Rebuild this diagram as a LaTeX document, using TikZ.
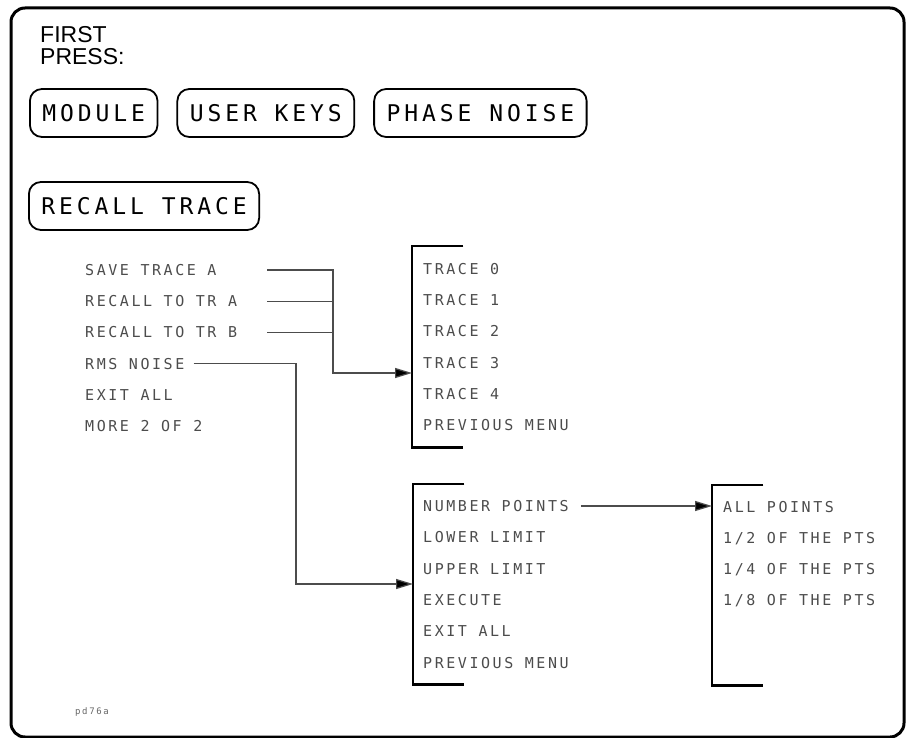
\documentclass[tikz,border=0pt]{standalone}
\usepackage{fontspec}
\setmainfont{Liberation Sans}
\newfontfamily\menufont[LetterSpace=17]{DejaVu Sans Mono}
\newfontfamily\keyfont[LetterSpace=17]{DejaVu Sans Mono}
\newfontfamily\tagfont[LetterSpace=18]{DejaVu Sans Mono}
\usetikzlibrary{arrows.meta,positioning}

\tikzset{
  softkey/.style={draw, line width=1.8pt, rounded corners=12pt, minimum height=48pt,
    inner xsep=12.5pt, anchor=west, text height=17pt, text depth=0pt,
    font=\keyfont\fontsize{23}{23}\selectfont},
  menuitem/.style={anchor=west, inner sep=0pt, text=black!70, text height=11pt,
    text depth=0pt, font=\menufont\fontsize{15}{15}\selectfont},
  bracketbox/.style={anchor=north west, inner sep=0pt, minimum width=51pt},
  bracket/.style={line width=2.4pt},
  link/.style={line width=1.2pt, draw=black!70},
  linkarrow/.style={link, -{Triangle[length=17pt,width=10pt,fill=black]}}
}

\begin{document}
\begin{tikzpicture}[x=1pt, y=-1pt]
\useasboundingbox (0,0) rectangle (910,738);
%%%%% Frame %%%%%
\draw[line width=3pt, rounded corners=14pt] (11,8) rectangle (904,737);
\node[anchor=north west, inner sep=0pt, align=left, font=\fontsize{23}{22}\selectfont] (first) at (40,26) {FIRST\\PRESS:};

%%%%% Keys %%%%%
\node[softkey] (module) at (29,113) {MODULE};
\node[softkey, right=18pt of module] (userkeys) {USER KEYS};
\node[softkey, right=18pt of userkeys] (phasenoise) {PHASE NOISE};
\node[softkey] (recall) at (28,206) {RECALL TRACE};

%%%%% Menus %%%%%
\foreach \t [count=\i from 0] in {SAVE TRACE A,RECALL TO TR A,RECALL TO TR B,RMS NOISE,EXIT ALL,MORE 2 OF 2}
  \node[menuitem] (rt\i) at (85,{270+31.2*\i}) {\t};
\foreach \t [count=\i from 0] in {TRACE 0,TRACE 1,TRACE 2,TRACE 3,TRACE 4,PREVIOUS MENU}
  \node[menuitem] (tr\i) at (423,{269+31.2*\i}) {\t};
\foreach \t [count=\i from 0] in {NUMBER POINTS,LOWER LIMIT,UPPER LIMIT,EXECUTE,EXIT ALL,PREVIOUS MENU}
  \node[menuitem] (rn\i) at (423,{506+31.3*\i}) {\t};
\foreach \t [count=\i from 0] in {ALL POINTS,1/2 OF THE PTS,1/4 OF THE PTS,1/8 OF THE PTS}
  \node[menuitem] (pt\i) at (723,{507+31*\i}) {\t};

%%%%% Brackets %%%%%
\node[bracketbox, minimum height=201pt] (trb) at (412,246) {};
\node[bracketbox, minimum height=200pt] (rnb) at (413,484) {};
\node[bracketbox, minimum height=200pt] (ptb) at (712,485) {};
\foreach \b in {trb,rnb,ptb}
  \draw[bracket] (\b.north east) -- (\b.north west) -- (\b.south west) -- (\b.south east);

%%%%% Links %%%%%
\coordinate (split) at (267,0);
\coordinate (join) at (333,373);
\coordinate (drop) at (296,584);
\draw[linkarrow] (rt0.east -| split) -| (join) -- (join -| trb.west);
\draw[link] (rt1.east -| split) -- (rt1.east -| join);
\draw[link] (rt2.east -| split) -- (rt2.east -| join);
\draw[linkarrow] ([xshift=9pt]rt3.east) -| (drop) -- (drop -| rnb.west);
\draw[linkarrow] ([xshift=12pt]rn0.east) -- (rn0.east -| ptb.west);

\node[anchor=west, inner sep=0pt, text=black!60, font=\tagfont\fontsize{9}{9}\selectfont] (tag) at (75,712) {pd76a};
\end{tikzpicture}
\end{document}
